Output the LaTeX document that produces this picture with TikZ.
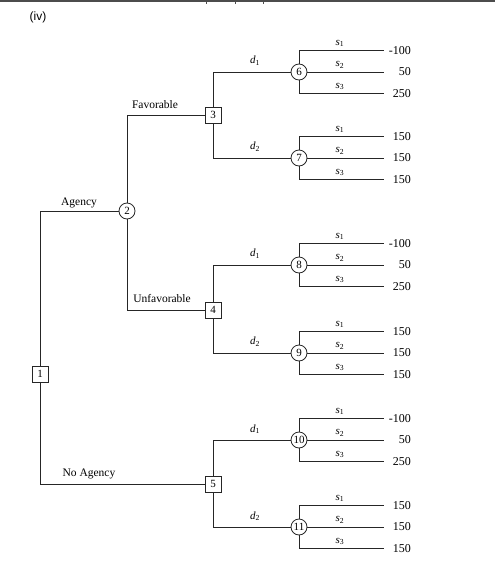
\documentclass[tikz,border=0pt]{standalone}
\usepackage{fontspec}
\setmainfont{Liberation Serif}
\newfontfamily\labsans{Liberation Sans}
\begin{document}
\begin{tikzpicture}[x=1pt,y=-1pt,
  line/.style={draw=black!85,line width=0.8pt},
  dec/.style={line,rectangle,fill=white,minimum size=16pt,inner sep=0pt,font=\fontsize{11}{11}\selectfont},
  chance/.style={line,circle,fill=white,minimum size=16pt,inner sep=0pt,font=\fontsize{11}{11}\selectfont},
  lab/.style={font=\fontsize{11.5}{11}\selectfont,inner sep=0pt},
  val/.style={font=\fontsize{12}{11}\selectfont,inner sep=0pt,anchor=east},
  sl/.style={font=\fontsize{11}{10}\selectfont,inner sep=0pt}]
\useasboundingbox (0,0) rectangle (495,573);
% top border
\draw[black!70,line width=2pt] (0,1) -- (495,1);
\draw[black!70,line width=0.8pt] (206,0) -- (206,4) (235,0) -- (235,4) (263,0) -- (263,4);
\node[font=\labsans\fontsize{12}{12}\selectfont,inner sep=0pt] (iv) at (38,17) {(iv)};

% nodes
\node[dec] (n1) at (40,374) {1};
\node[chance] (n2) at (127,211) {2};
\node[dec] (n3) at (213,115) {3};
\node[dec] (n4) at (213,310) {4};
\node[dec] (n5) at (213,484) {5};
\node[chance] (n6) at (299,72) {6};
\node[chance] (n7) at (299,158) {7};
\node[chance] (n8) at (299,265) {8};
\node[chance] (n9) at (299,353) {9};
\node[chance] (n10) at (299,440) {10};
\node[chance] (n11) at (299,527) {11};

% main edges
\draw[line] (n1) |- (n2);
\draw[line] (n1) |- (n5);
\draw[line] (n2) |- (n3);
\draw[line] (n2) |- (n4);
\draw[line] (n3) |- (n6);
\draw[line] (n3) |- (n7);
\draw[line] (n4) |- (n8);
\draw[line] (n4) |- (n9);
\draw[line] (n5) |- (n10);
\draw[line] (n5) |- (n11);

\node[lab] (tAg) at (79,203) {Agency};
\node[lab] (tFav) at (155,105) {Favorable};
\node[lab] (tUnf) at (162,299) {Unfavorable};
\node[lab] (tNo) at (89,474) {No Agency};

\foreach \n/\y/\d in {6/72/1,7/158/2,8/265/1,9/353/2,10/440/1,11/527/2}{
  \node[sl] (d\n) at (255,\y-11) {\textit{d}\textsubscript{\d}};
}

% chance branches
\foreach \n/\y/\a/\b/\c in {6/72/-100/50/250,7/158/150/150/150,8/265/-100/50/250,9/353/150/150/150,10/440/-100/50/250,11/527/150/150/150}{
  \coordinate (e\n a) at (384,\y-21.5);
  \coordinate (e\n b) at (384,\y);
  \coordinate (e\n c) at (384,\y+21.5);
  \draw[line] (n\n) |- (e\n a);
  \draw[line] (n\n) -- (e\n b);
  \draw[line] (n\n) |- (e\n c);
  \node[sl] (s\n a) at (340,\y-21.5-7) {\textit{s}\textsubscript{1}};
  \node[sl] (s\n b) at (340,\y-7) {\textit{s}\textsubscript{2}};
  \node[sl] (s\n c) at (340,\y+21.5-7) {\textit{s}\textsubscript{3}};
  \node[val] (v\n a) at (411,\y-21.5) {\a};
  \node[val] (v\n b) at (411,\y) {\b};
  \node[val] (v\n c) at (411,\y+21.5) {\c};
}
\end{tikzpicture}
\end{document}
